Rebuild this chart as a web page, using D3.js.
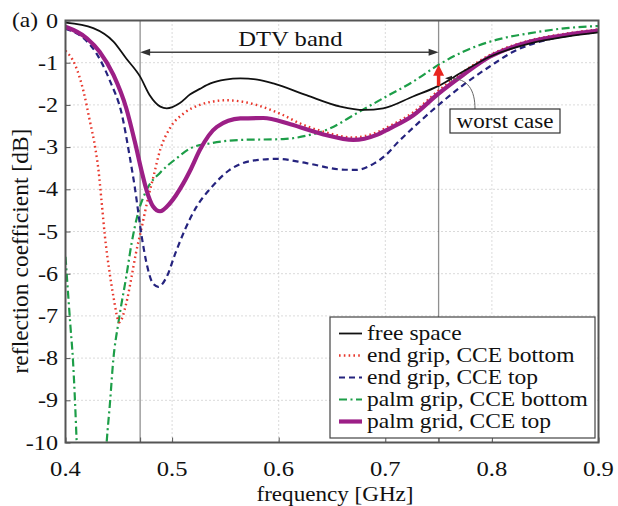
<!DOCTYPE html>
<html>
<head>
<meta charset="utf-8">
<script src="https://cdn.jsdelivr.net/npm/d3@7"></script>
<style>
  html, body { margin: 0; padding: 0; background: #fff; }
  svg { display: block; }
  text { font-family: "Liberation Serif", "Times New Roman", serif; fill: #111; }
</style>
</head>
<body>
<svg id="chart" width="618" height="506"></svg>
<script>
// ---- data: frequency [GHz] / reflection coefficient [dB] ----
const freeSpaceF = [0.400, 0.426, 0.445, 0.457, 0.470, 0.479, 0.489, 0.495, 0.507, 0.517, 0.526, 0.536, 0.550, 0.564, 0.580, 0.595, 0.626, 0.658, 0.680, 0.698, 0.726, 0.750, 0.773, 0.798, 0.836, 0.870, 0.900];
const freeSpaceDb = [-0.05, -0.18, -0.50, -0.90, -1.33, -1.77, -2.04, -2.08, -1.96, -1.75, -1.62, -1.49, -1.40, -1.37, -1.40, -1.49, -1.77, -2.04, -2.12, -2.08, -1.80, -1.55, -1.21, -0.86, -0.54, -0.38, -0.28];

const endBottomF = [0.400, 0.409, 0.417, 0.423, 0.428, 0.431, 0.434, 0.437, 0.441, 0.445, 0.4505, 0.457, 0.462, 0.466, 0.471, 0.478, 0.482, 0.489, 0.498, 0.511, 0.526, 0.536, 0.551, 0.565, 0.579, 0.604, 0.620, 0.640, 0.670, 0.692, 0.705, 0.726, 0.750, 0.773, 0.798, 0.836, 0.870, 0.900];
const endBottomDb = [-0.72, -1.05, -1.69, -2.40, -3.03, -3.56, -4.33, -5.12, -5.91, -6.55, -7.15, -6.70, -6.07, -5.52, -4.96, -4.15, -3.75, -3.05, -2.55, -2.20, -2.00, -1.93, -1.89, -1.92, -2.00, -2.24, -2.44, -2.62, -2.77, -2.65, -2.49, -2.18, -1.66, -1.22, -0.82, -0.47, -0.31, -0.21];

const endTopF = [0.400, 0.417, 0.429, 0.442, 0.453, 0.460, 0.465, 0.4715, 0.476, 0.482, 0.487, 0.495, 0.503, 0.512, 0.523, 0.536, 0.554, 0.579, 0.598, 0.626, 0.658, 0.673, 0.690, 0.700, 0.712, 0.730, 0.750, 0.773, 0.798, 0.820, 0.851, 0.900];
const endTopDb = [-0.20, -0.42, -0.78, -1.45, -2.24, -3.19, -3.95, -5.12, -5.75, -6.23, -6.31, -6.07, -5.52, -4.96, -4.41, -3.98, -3.54, -3.31, -3.28, -3.38, -3.53, -3.54, -3.38, -3.20, -2.88, -2.45, -2.00, -1.53, -1.09, -0.74, -0.46, -0.28];

const palmBottomF = [0.400, 0.4025, 0.4045, 0.407, 0.409, 0.4105, 0.416, 0.424, 0.433, 0.4386, 0.4417, 0.4448, 0.4495, 0.451, 0.457, 0.462, 0.468, 0.476, 0.489, 0.504, 0.517, 0.536, 0.564, 0.604, 0.626, 0.648, 0.673, 0.701, 0.726, 0.750, 0.773, 0.804, 0.836, 0.870, 0.900];
const palmBottomDb = [-5.60, -6.50, -7.20, -8.05, -9.07, -10.00, -12.50, -14.00, -12.50, -10.00, -9.07, -8.05, -7.18, -6.94, -6.07, -5.28, -4.57, -4.02, -3.60, -3.27, -3.03, -2.91, -2.83, -2.81, -2.73, -2.56, -2.20, -1.80, -1.45, -1.05, -0.74, -0.46, -0.30, -0.18, -0.13];

const palmTopF = [0.400, 0.420, 0.432, 0.445, 0.457, 0.465, 0.4715, 0.476, 0.482, 0.4887, 0.498, 0.5105, 0.518, 0.526, 0.542, 0.564, 0.5856, 0.611, 0.642, 0.670, 0.692, 0.704, 0.726, 0.750, 0.773, 0.798, 0.836, 0.870, 0.900];
const palmTopDb = [-0.15, -0.42, -0.74, -1.29, -2.08, -2.87, -3.58, -4.02, -4.40, -4.52, -4.33, -3.86, -3.50, -3.07, -2.52, -2.32, -2.31, -2.46, -2.70, -2.83, -2.71, -2.56, -2.25, -1.73, -1.29, -0.86, -0.50, -0.34, -0.24];

const seriesNames = ["free space", "end grip, CCE bottom", "end grip, CCE top", "palm grip, CCE bottom", "palm grid, CCE top"];

const xTicks = [0.4, 0.5, 0.6, 0.7, 0.8, 0.9];
const yTicks = [0, -1, -2, -3, -4, -5, -6, -7, -8, -9, -10];

const dtvBand = [0.47, 0.75];
const dtvArrowDb = -0.75;
const worstCaseFrom = -1.55;   // free space at band edge
const worstCaseTo = -1.05;     // palm grip, CCE bottom at band edge
const calloutTip = [0.756, -1.37];

// ---- drawing ----
const svg = d3.select("#chart");
const plotLeft = 65.5, plotRight = 598.5, plotTop = 20.5, plotBottom = 442.5;
const x = d3.scaleLinear().domain([0.4, 0.9]).range([plotLeft, plotRight]);
const y = d3.scaleLinear().domain([-10, 0]).range([plotBottom, plotTop]);

const styles = [
  { color: "#111111", width: 1.8, dash: null },
  { color: "#e8372c", width: 2.4, dash: "1.6,3.2" },
  { color: "#25237e", width: 2.2, dash: "6,4" },
  { color: "#1d9e48", width: 2.2, dash: "8,3.5,2,3.5" },
  { color: "#9c1f86", width: 4.2, dash: null }
];
const seriesData = [
  d3.zip(freeSpaceF, freeSpaceDb),
  d3.zip(endBottomF, endBottomDb),
  d3.zip(endTopF, endTopDb),
  d3.zip(palmBottomF, palmBottomDb),
  d3.zip(palmTopF, palmTopDb)
];

function label(parent, px, py, str, size, anchor, sx) {
  parent.append("g")
    .attr("transform", `translate(${px},${py}) scale(${sx},1)`)
    .append("text")
    .attr("text-anchor", anchor)
    .attr("font-size", size)
    .text(str);
}

svg.append("defs").append("clipPath").attr("id", "plotClip")
  .append("rect").attr("x", plotLeft).attr("y", plotTop)
  .attr("width", plotRight - plotLeft).attr("height", plotBottom - plotTop);

// grid
const grid = svg.append("g");
xTicks.slice(1, -1).forEach(t => {
  grid.append("line").attr("x1", x(t)).attr("x2", x(t)).attr("y1", plotTop).attr("y2", plotBottom)
    .attr("stroke", "#b5b5b5").attr("stroke-width", 1).attr("stroke-dasharray", "1,3");
});
yTicks.slice(1, -1).forEach(t => {
  grid.append("line").attr("x1", plotLeft).attr("x2", plotRight).attr("y1", y(t)).attr("y2", y(t))
    .attr("stroke", "#b5b5b5").attr("stroke-width", 1).attr("stroke-dasharray", "1,3");
});

// DTV band edges
dtvBand.forEach(t => {
  svg.append("line").attr("x1", x(t)).attr("x2", x(t)).attr("y1", plotTop).attr("y2", plotBottom)
    .attr("stroke", "#222").attr("stroke-width", 1.3).attr("stroke-dasharray", "1,1");
});

// axes with inward ticks
const xAxis = d3.axisBottom(x).tickValues(xTicks.concat(dtvBand)).tickSize(-5).tickFormat("");
const yAxis = d3.axisLeft(y).tickValues(yTicks).tickSize(-5).tickFormat("");
const gx = svg.append("g").attr("transform", `translate(0,${plotBottom})`).call(xAxis);
const gy = svg.append("g").attr("transform", `translate(${plotLeft},0)`).call(yAxis);
[gx, gy].forEach(g => {
  g.select(".domain").remove();
  g.selectAll(".tick line").attr("stroke", "#555").attr("stroke-width", 1);
});

// curves
const line = d3.line().x(d => x(d[0])).y(d => y(d[1])).curve(d3.curveMonotoneX);
const curves = svg.append("g").attr("clip-path", "url(#plotClip)");
const drawOrder = [3, 1, 2, 4, 0];
drawOrder.forEach(i => {
  const s = styles[i];
  curves.append("path").datum(seriesData[i]).attr("d", line)
    .attr("fill", "none").attr("stroke", s.color).attr("stroke-width", s.width)
    .attr("stroke-dasharray", s.dash).attr("stroke-linejoin", "round");
});

// frame
svg.append("rect").attr("x", plotLeft).attr("y", plotTop)
  .attr("width", plotRight - plotLeft).attr("height", plotBottom - plotTop)
  .attr("fill", "none").attr("stroke", "#555").attr("stroke-width", 2);

// tick labels
xTicks.forEach(t => label(svg, x(t), 476, d3.format(".1f")(t), 22, "middle", 1.12));
yTicks.forEach(t => label(svg, 58, y(t) + 7, String(t), 21, "end", 1.15));

// axis titles
label(svg, (plotLeft + plotRight) / 2 + 3, 501, "frequency [GHz]", 21, "middle", 1.1);
svg.append("text").attr("transform", `translate(28,${(127 + 375) / 2}) rotate(-90)`)
  .attr("text-anchor", "middle").attr("font-size", 23.5).text("reflection coefficient [dB]");
label(svg, 12, 27, "(a)", 21, "start", 1.12);

// DTV band arrow
const ann = svg.append("g");
const ay = y(dtvArrowDb);
ann.append("line").attr("x1", x(dtvBand[0]) + 8).attr("x2", x(dtvBand[1]) - 8)
  .attr("y1", ay).attr("y2", ay).attr("stroke", "#444").attr("stroke-width", 1.5);
[[x(dtvBand[0]), 1], [x(dtvBand[1]), -1]].forEach(([px, dir]) => {
  ann.append("path")
    .attr("d", `M${px},${ay} L${px + dir * 10},${ay - 3.5} L${px + dir * 10},${ay + 3.5} Z`)
    .attr("fill", "#333");
});
label(ann, x((dtvBand[0] + dtvBand[1]) / 2) + 1, 46, "DTV band", 22, "middle", 1.12);

// worst-case arrow at upper band edge
const wx = x(dtvBand[1]);
const wy0 = y(worstCaseFrom), wy1 = y(worstCaseTo);
ann.append("line").attr("x1", wx).attr("x2", wx).attr("y1", wy0).attr("y2", wy1 + 9)
  .attr("stroke", "#e8251f").attr("stroke-width", 3.5);
ann.append("path")
  .attr("d", `M${wx},${wy1} L${wx - 5.5},${wy1 + 11} L${wx + 5.5},${wy1 + 11} Z`)
  .attr("fill", "#e8251f");

// callout
const tipX = x(calloutTip[0]), tipY = y(calloutTip[1]);
ann.append("path")
  .attr("d", `M475,109 C475,90 468,${tipY} ${tipX + 5},${tipY}`)
  .attr("fill", "none").attr("stroke", "#666").attr("stroke-width", 1);
ann.append("path")
  .attr("d", `M${tipX},${tipY} L${tipX + 7},${tipY - 2.5} L${tipX + 7},${tipY + 2.5} Z`)
  .attr("fill", "#222");
ann.append("rect").attr("x", 450).attr("y", 109).attr("width", 110).attr("height", 24)
  .attr("fill", "#fff").attr("stroke", "#333").attr("stroke-width", 1.2);
label(ann, 505, 128, "worst case", 21, "middle", 1.1);

// legend
const lg = svg.append("g");
lg.append("rect").attr("x", 330).attr("y", 317).attr("width", 265).attr("height", 121)
  .attr("fill", "#fff").attr("stroke", "#444").attr("stroke-width", 1.2);
seriesNames.forEach((name, i) => {
  const ry = 333.5 + i * 22;
  const s = styles[i];
  lg.append("line").attr("x1", 339).attr("x2", 362).attr("y1", ry).attr("y2", ry)
    .attr("stroke", s.color).attr("stroke-width", s.width).attr("stroke-dasharray", s.dash);
  label(lg, 367, ry + 6.5, name, 21, "start", 1.12);
});
</script>
</body>
</html>
